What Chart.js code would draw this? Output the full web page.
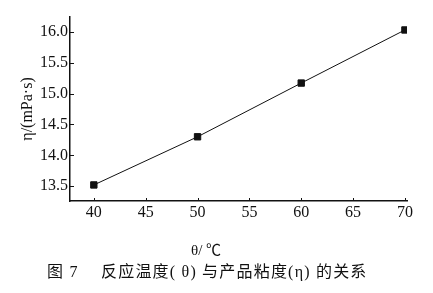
<!DOCTYPE html>
<html>
<head>
<meta charset="utf-8">
<script src="https://cdn.jsdelivr.net/npm/chart.js@4"></script>
<style>
  html, body { margin: 0; padding: 0; background: #fff; }
  #wrap { position: relative; width: 433px; height: 293px; }
  .txt { position: absolute; white-space: nowrap; color: #111;
         font-family: 'Liberation Serif', 'Noto Sans CJK SC', serif; }
  #xtitle { left: 191px; top: 238px; font-size: 15px; }
  #caption { left: 47px; top: 258px; font-size: 16px; letter-spacing: 1.2px; }
</style>
</head>
<body>
<div id="wrap">
  <canvas id="chart" width="433" height="293"></canvas>
  <div id="xtitle" class="txt">θ/ ℃</div>
  <div id="caption" class="txt">图 7 　反应温度( θ) 与产品粘度(η) 的关系</div>
</div>
<script>
// data
const temps = [40, 50, 60, 70];
const viscosity = [13.52, 14.30, 15.17, 16.03];
const xTicks = [40, 45, 50, 55, 60, 65, 70];
const yTicks = [13.5, 14.0, 14.5, 15.0, 15.5, 16.0];

Chart.defaults.font.family = "'Liberation Serif', 'Times New Roman', serif";
Chart.defaults.color = '#111';

// small inward tick marks like the printed figure
const innerTicks = {
  id: 'innerTicks',
  afterDraw(chart) {
    const { ctx, scales: { x, y }, chartArea } = chart;
    ctx.save();
    ctx.strokeStyle = '#111';
    ctx.lineWidth = 1;
    ctx.beginPath();
    yTicks.forEach(v => {
      const py = Math.round(y.getPixelForValue(v)) + 0.5;
      ctx.moveTo(chartArea.left, py);
      ctx.lineTo(chartArea.left + 4, py);
    });
    xTicks.forEach(v => {
      const px = Math.round(x.getPixelForValue(v)) + 0.5;
      ctx.moveTo(px, chartArea.bottom);
      ctx.lineTo(px, chartArea.bottom - 3);
    });
    ctx.stroke();
    ctx.restore();
  }
};

const ctx = document.getElementById('chart').getContext('2d');
new Chart(ctx, {
  type: 'scatter',
  data: {
    datasets: [{
      data: temps.map((t, i) => ({ x: t, y: viscosity[i] })),
      showLine: true,
      borderColor: '#111',
      borderWidth: 1,
      backgroundColor: '#111',
      pointStyle: 'rect',
      pointRadius: 4.5,
      pointHoverRadius: 4.5
    }]
  },
  options: {
    responsive: false,
    animation: false,
    events: [],
    layout: { padding: { left: 0, top: 17, right: 26, bottom: 0 } },
    plugins: { legend: { display: false }, tooltip: { enabled: false } },
    scales: {
      x: {
        type: 'linear',
        min: 37.7,
        max: 70.2,
        afterBuildTicks: s => { s.ticks = xTicks.map(v => ({ value: v })); },
        afterFit: s => { s.height = 92; },
        grid: { display: true, drawOnChartArea: false, drawTicks: false },
        border: { color: '#111', width: 1.5 },
        ticks: { padding: 2, font: { size: 16 }, maxRotation: 0 }
      },
      y: {
        min: 13.26,
        max: 16.24,
        afterBuildTicks: s => { s.ticks = yTicks.map(v => ({ value: v })); },
        afterFit: s => { s.width = 70; },
        grid: { display: true, drawOnChartArea: false, drawTicks: false },
        border: { color: '#111', width: 1.5 },
        ticks: { padding: 2, font: { size: 16 }, callback: v => v.toFixed(1) },
        title: {
          display: true,
          text: 'η/(mPa·s)',
          font: { size: 16 },
          padding: { top: 18, bottom: 0 }
        }
      }
    }
  },
  plugins: [innerTicks]
});
</script>
</body>
</html>
